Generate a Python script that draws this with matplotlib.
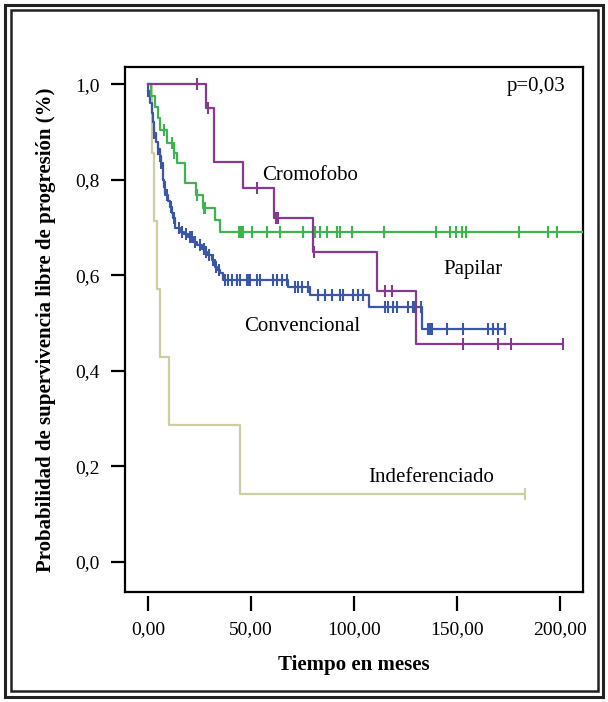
import numpy as np
import matplotlib
matplotlib.use("Agg")
import matplotlib.pyplot as plt
from matplotlib.patches import Rectangle

# ---- data ----
xticks = [0, 50, 100, 150, 200]
xtick_labels = ["0,00", "50,00", "100,00", "150,00", "200,00"]
yticks = [0.0, 0.2, 0.4, 0.6, 0.8, 1.0]
ytick_labels = ["0,0", "0,2", "0,4", "0,6", "0,8", "1,0"]

conv_t = [0, 1.0, 1.9, 2.6, 2.9, 3.9, 5.0, 5.6, 6.2, 7.1, 7.8, 8.3, 9.5, 10.7, 11.5, 12.3,
          13.1, 15.5, 17.5, 19.6, 22.0, 23.8, 26.1, 27.2, 28.5, 30.9, 32.5, 33.7, 35.0,
          36.6, 68.1, 78.6, 107.4, 132.9]
conv_s = [0.985, 0.96, 0.94, 0.92, 0.897, 0.88, 0.865, 0.85, 0.834, 0.80, 0.785, 0.768,
          0.755, 0.743, 0.73, 0.719, 0.698, 0.691, 0.686, 0.681, 0.670, 0.663, 0.656,
          0.649, 0.642, 0.632, 0.618, 0.611, 0.604, 0.590, 0.575, 0.559, 0.534, 0.487]
conv_end = 173.3
conv_cens = [0, 2.9, 5.0, 5.6, 6.5, 8.0, 9.0, 11.0, 12.5, 15.0, 16.5, 18.5, 20.5, 21.5,
             23.0, 25.0, 27.0, 28.0, 29.5, 31.5, 33.0, 34.3, 37.4, 39, 40.6, 43, 44.7,
             47.9, 48.7, 49.5, 52.8, 54.4, 60.8, 62.5, 64.9, 67.3, 71.4, 73, 74.6, 77.8,
             82.7, 85.9, 89.2, 93.2, 94.5, 99.7, 102.1, 104.5, 115, 116.7, 119.1, 120.7,
             126.4, 128.8, 129.6, 132.5, 136.1, 136.9, 137.7, 145, 152.8, 165.2, 167.6,
             170, 173.3]

crom_t = [0, 28, 32, 46, 61, 80, 111, 130]
crom_s = [1.0, 0.95, 0.837, 0.782, 0.72, 0.649, 0.568, 0.456]
crom_end = 201.3
crom_cens = [24, 29, 53, 62, 63, 80.6, 115, 118.6, 152.8, 170, 176, 201.3]

pap_t = [0, 1.5, 3.4, 4.7, 5.8, 9.1, 12.6, 14, 18, 23.5, 26.8, 32.5, 35]
pap_s = [1.0, 0.976, 0.953, 0.929, 0.904, 0.876, 0.857, 0.834, 0.793, 0.768, 0.741,
         0.716, 0.691]
pap_end = 215
pap_cens = [7.9, 11.5, 12.8, 24, 27, 27.5, 44, 45, 46.3, 50.3, 57.6, 64.1, 75.4, 81.1,
            83.5, 87, 91.6, 93.2, 99, 114.6, 140, 146.6, 149.5, 152.3, 154.4, 180.2,
            194.3, 198.4]

ind_t = [0, 2.0, 2.9, 4.2, 5.8, 10.3, 44.7]
ind_s = [1.0, 0.857, 0.714, 0.571, 0.429, 0.286, 0.143]
ind_end = 183
ind_cens = [183]

# ---- figure ----
plt.rcParams['font.family'] = ['Liberation Serif', 'DejaVu Serif']
fig = plt.figure(figsize=(6.08, 7.02), dpi=100)
ax = fig.add_axes([125/608, 1-592/702, (583-125)/608, (592-67)/702])


def km(ax, t, s, end, cens, color, z):
    tt = list(t) + [end]
    ss = list(s) + [s[-1]]
    ax.step(tt, ss, where='post', color=color, lw=1.6, zorder=z, clip_on=True)
    t_arr = np.array(t)
    cy = [s[np.searchsorted(t_arr, c, side='right') - 1] for c in cens]
    ax.plot(cens, cy, linestyle='none', marker='|', ms=8, mew=1.5, color=color, zorder=z)


km(ax, ind_t, ind_s, ind_end, ind_cens, '#cfcea2', 2)
km(ax, conv_t, conv_s, conv_end, conv_cens, '#3a56a8', 3)
km(ax, pap_t, pap_s, pap_end, pap_cens, '#3db44e', 4)
km(ax, crom_t, crom_s, crom_end, crom_cens, '#86398f', 5)

ax.set_xlim(-11.2, 211.2)
ax.set_ylim(-0.063, 1.036)

ax.set_yticks(yticks)
ax.set_yticklabels(ytick_labels, fontsize=14)
ax.tick_params(axis='y', direction='out', length=10, width=1.6, pad=8)
ax.set_xticks([])
for sp in ax.spines.values():
    sp.set_linewidth(1.6)

sec = ax.secondary_xaxis(-0.008)
sec.spines['bottom'].set_visible(False)
sec.set_xticks(xticks)
sec.set_xticklabels(xtick_labels, fontsize=14)
sec.tick_params(axis='x', direction='out', length=11, width=1.6, pad=7)
sec.set_xlabel('Tiempo en meses', fontsize=15, fontweight='bold', labelpad=12)

ax.set_ylabel('Probabilidad de supervivencia libre de progresión (%)', fontsize=15,
              fontweight='bold', labelpad=14)

ax.text(202.5, 1.0, 'p=0,03', fontsize=15, ha='right', va='center_baseline')
ax.text(55.3, 0.814, 'Cromofobo', fontsize=15, ha='left', va='center_baseline')
ax.text(143.4, 0.618, 'Papilar', fontsize=15, ha='left', va='center_baseline')
ax.text(46.6, 0.499, 'Convencional', fontsize=15, ha='left', va='center_baseline')
ax.text(107.0, 0.182, 'Indeferenciado', fontsize=15, ha='left', va='center_baseline')

# double frame around the figure
W, H = 608, 702
fig.add_artist(Rectangle((5/W, 5/H), (603-5)/W, (697-5)/H, transform=fig.transFigure,
                         fill=False, lw=2.2, edgecolor='#222222'))
fig.add_artist(Rectangle((11/W, 11/H), (598-11)/W, (692-11)/H, transform=fig.transFigure,
                         fill=False, lw=1.8, edgecolor='#222222'))

fig.savefig('out.png', dpi=100)
